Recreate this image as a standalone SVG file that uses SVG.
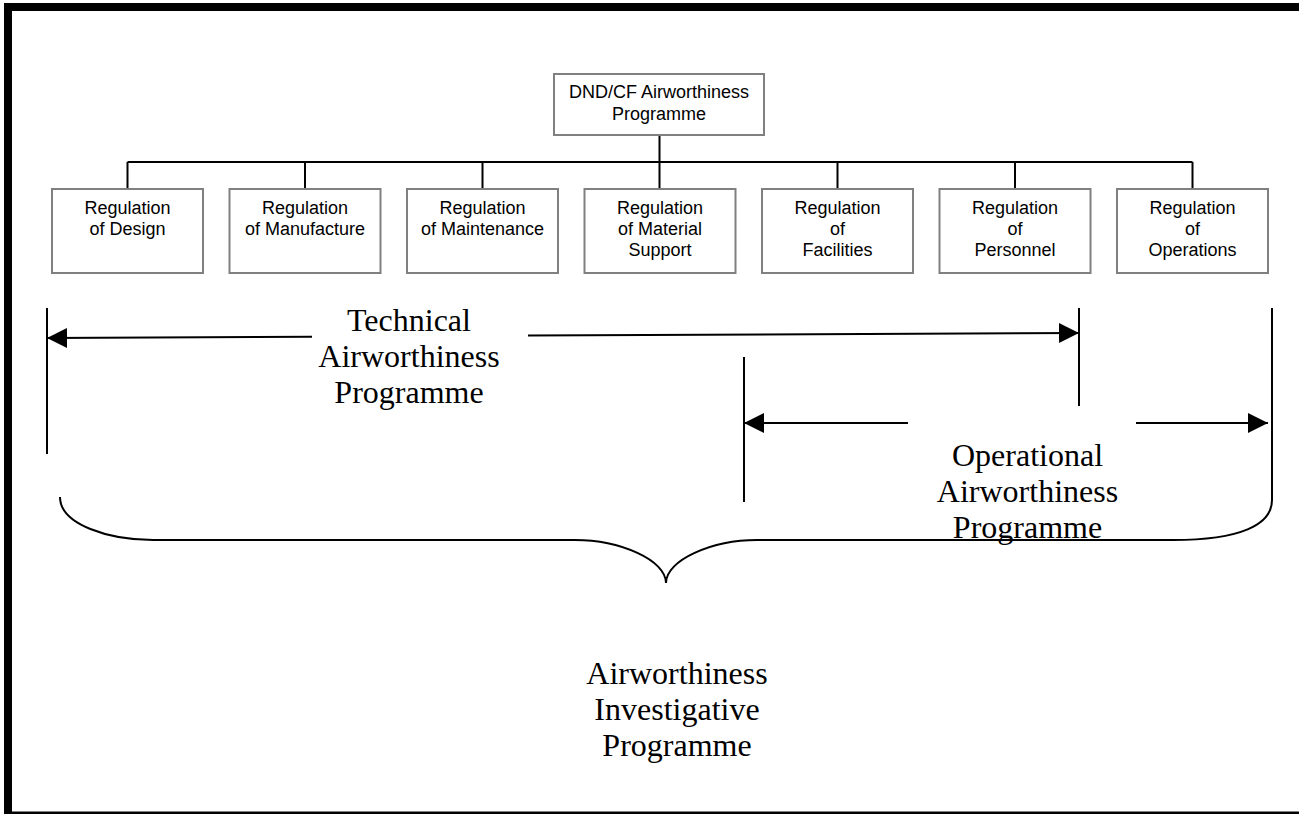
<svg xmlns="http://www.w3.org/2000/svg" width="1299" height="814" viewBox="0 0 1299 814">
<style>
.box{fill:#fff;stroke:#808080;stroke-width:2}
.bt{font-family:"Liberation Sans",Arial,sans-serif;font-size:18px;fill:#000;text-anchor:middle}
.big{font-family:"Liberation Serif","Times New Roman",serif;font-size:32px;fill:#000;text-anchor:middle}
.tree{fill:none;stroke:#000;stroke-width:2}
.ln{fill:none;stroke:#000;stroke-width:2}
.arr{fill:none;stroke:#000;stroke-width:2;marker-end:url(#ah)}
</style>
<defs>
<marker id="ah" markerUnits="userSpaceOnUse" markerWidth="21" markerHeight="21" refX="20" refY="10" orient="auto" viewBox="0 0 21 21">
<path d="M0,0 L20,10 L0,20 Z" fill="#000"/>
</marker>
</defs>
<rect x="0" y="0" width="1299" height="814" fill="#fff"/>
<rect x="8" y="7" width="1310" height="808.5" fill="none" stroke="#000" stroke-width="8"/>

<g id="connectors">
<path class="tree" d="M659.5,135 V162 M127.5,162 H1192.5 M127.5,162 V189 M305,162 V189 M482.5,162 V189 M659.5,162 V189 M837.5,162 V189 M1015,162 V189 M1192.5,162 V189"/>
</g>

<g id="node-top">
<rect class="box" x="554" y="74" width="210" height="61"/>
<text class="bt" x="659" y="98">DND/CF Airworthiness</text>
<text class="bt" x="659" y="120">Programme</text>
</g>
<g id="node-design">
<rect class="box" x="52" y="189" width="151" height="84"/>
<text class="bt" x="127.5" y="214">Regulation</text>
<text class="bt" x="127.5" y="235">of Design</text>
</g>
<g id="node-manufacture">
<rect class="box" x="229.5" y="189" width="151" height="84"/>
<text class="bt" x="305" y="214">Regulation</text>
<text class="bt" x="305" y="235">of Manufacture</text>
</g>
<g id="node-maintenance">
<rect class="box" x="407" y="189" width="151" height="84"/>
<text class="bt" x="482.5" y="214">Regulation</text>
<text class="bt" x="482.5" y="235">of Maintenance</text>
</g>
<g id="node-material">
<rect class="box" x="584.5" y="189" width="151" height="84"/>
<text class="bt" x="660" y="214">Regulation</text>
<text class="bt" x="660" y="235">of Material</text>
<text class="bt" x="660" y="256">Support</text>
</g>
<g id="node-facilities">
<rect class="box" x="762" y="189" width="151" height="84"/>
<text class="bt" x="837.5" y="214">Regulation</text>
<text class="bt" x="837.5" y="235">of</text>
<text class="bt" x="837.5" y="256">Facilities</text>
</g>
<g id="node-personnel">
<rect class="box" x="939.5" y="189" width="151" height="84"/>
<text class="bt" x="1015" y="214">Regulation</text>
<text class="bt" x="1015" y="235">of</text>
<text class="bt" x="1015" y="256">Personnel</text>
</g>
<g id="node-operations">
<rect class="box" x="1117" y="189" width="151" height="84"/>
<text class="bt" x="1192.5" y="214">Regulation</text>
<text class="bt" x="1192.5" y="235">of</text>
<text class="bt" x="1192.5" y="256">Operations</text>
</g>

<g id="technical-span">
<path class="ln" d="M47,308 V454 M1079,308 V406"/>
<path class="arr" d="M312,336.7 L47,338"/>
<path class="arr" d="M528,335.6 L1079,333"/>
<text class="big" x="409" y="331">Technical</text>
<text class="big" x="409" y="367">Airworthiness</text>
<text class="big" x="409" y="403">Programme</text>
</g>

<g id="operational-span">
<path class="ln" d="M744,357 V502"/>
<path class="arr" d="M908,423 L744,423"/>
<path class="arr" d="M1136,423 L1268,423"/>
<path class="ln" d="M1272,308 V500 C1272,525 1240,540 1173,540 H757 C712,540 666,560 666,583 C666,560 620,540 575,540 H153 C110,540 60,525 60,497"/>
<text class="big" x="1027.5" y="466">Operational</text>
<text class="big" x="1027.5" y="502">Airworthiness</text>
<text class="big" x="1027.5" y="538">Programme</text>
</g>

<g id="investigative-label">
<text class="big" x="677" y="684">Airworthiness</text>
<text class="big" x="677" y="720">Investigative</text>
<text class="big" x="677" y="756">Programme</text>
</g>
</svg>
